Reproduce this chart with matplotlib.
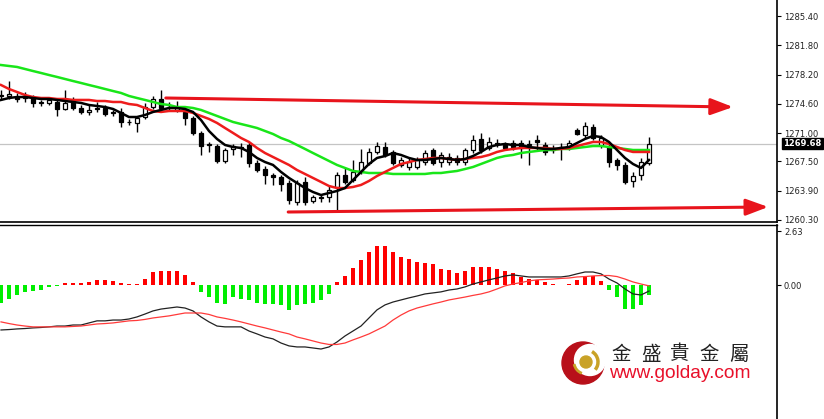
import matplotlib
matplotlib.use("Agg")
import matplotlib.pyplot as plt
from matplotlib.patches import Circle, Arc
import numpy as np

# ---- price candles (one per bar) ----
opens = [1275.7, 1275.6, 1275.4, 1275.3, 1275.3, 1274.7, 1274.7, 1274.8, 1274.0, 1274.8,
         1274.1, 1273.6, 1274.1, 1274.1, 1273.6, 1273.6, 1272.4, 1272.2, 1273.0, 1274.2,
         1275.2, 1274.5, 1273.8, 1273.6, 1272.9, 1271.0, 1269.5, 1269.4, 1267.6, 1269.0,
         1269.3, 1269.5, 1267.3, 1266.6, 1265.8, 1265.6, 1264.9, 1262.5, 1265.0, 1262.6,
         1263.1, 1263.1, 1264.4, 1265.8, 1265.2, 1266.2, 1267.3, 1268.7, 1269.3, 1268.7,
         1267.1, 1266.8, 1266.8, 1267.4, 1268.9, 1267.4, 1267.4, 1267.9, 1267.4, 1268.9,
         1270.3, 1269.2, 1269.8, 1269.5, 1269.8, 1269.8, 1269.5, 1270.1, 1269.5, 1268.9,
         1269.2, 1269.2, 1271.4, 1270.8, 1271.7, 1269.5, 1269.3, 1267.7, 1267.1, 1265.1,
         1265.8, 1267.3]
highs = [1276.3, 1277.4, 1275.9, 1276.0, 1275.7, 1275.1, 1275.4, 1275.1, 1276.3, 1275.4,
         1274.5, 1274.5, 1274.8, 1274.5, 1273.8, 1274.1, 1272.7, 1273.1, 1274.7, 1275.6,
         1276.3, 1274.8, 1274.9, 1274.1, 1273.1, 1271.3, 1269.9, 1269.7, 1269.2, 1269.7,
         1269.8, 1269.9, 1267.7, 1266.9, 1266.1, 1265.8, 1265.2, 1265.2, 1265.6, 1263.4,
         1263.4, 1264.6, 1266.2, 1266.7, 1267.7, 1269.0, 1269.2, 1269.9, 1269.9, 1268.9,
         1268.1, 1268.1, 1268.1, 1268.9, 1269.2, 1268.7, 1268.5, 1268.3, 1269.2, 1270.8,
         1271.0, 1270.5, 1270.3, 1269.9, 1270.1, 1270.1, 1270.1, 1270.8, 1269.9, 1269.5,
         1269.8, 1270.1, 1271.6, 1272.4, 1272.1, 1270.8, 1269.7, 1267.9, 1267.4, 1266.2,
         1267.9, 1270.5]
lows = [1275.1, 1275.2, 1274.8, 1274.8, 1274.2, 1274.3, 1274.5, 1273.1, 1273.8, 1273.8,
        1273.3, 1273.2, 1273.6, 1273.1, 1273.1, 1271.7, 1272.0, 1271.1, 1272.7, 1274.0,
        1273.8, 1273.8, 1273.6, 1272.0, 1270.8, 1268.3, 1268.7, 1267.3, 1267.3, 1268.3,
        1268.1, 1266.8, 1266.2, 1264.7, 1264.6, 1263.9, 1262.3, 1262.1, 1262.1, 1262.4,
        1262.5, 1262.5, 1261.4, 1264.7, 1265.0, 1266.0, 1267.1, 1268.4, 1268.1, 1267.1,
        1266.8, 1266.5, 1266.6, 1267.1, 1267.1, 1266.8, 1267.1, 1267.1, 1267.1, 1268.5,
        1268.5, 1268.9, 1269.3, 1268.9, 1268.9, 1267.9, 1267.1, 1268.9, 1268.3, 1268.5,
        1267.7, 1268.9, 1270.8, 1270.4, 1270.1, 1269.2, 1266.8, 1266.5, 1264.7, 1264.4,
        1265.2, 1267.1]
closes = [1275.6, 1275.8, 1275.2, 1275.6, 1274.7, 1274.8, 1275.1, 1274.0, 1274.7, 1274.1,
          1273.6, 1273.8, 1274.0, 1273.3, 1273.5, 1272.4, 1272.3, 1272.9, 1274.2, 1275.2,
          1274.1, 1274.4, 1274.2, 1272.9, 1271.0, 1269.4, 1269.6, 1267.6, 1268.9, 1269.4,
          1269.2, 1267.3, 1266.5, 1265.8, 1265.6, 1264.7, 1262.8, 1264.9, 1262.5, 1263.1,
          1263.0, 1264.0, 1265.8, 1265.0, 1266.2, 1267.4, 1268.7, 1269.4, 1268.3, 1267.3,
          1267.7, 1267.4, 1267.7, 1268.5, 1267.3, 1268.3, 1268.1, 1267.4, 1268.9, 1270.1,
          1268.9, 1269.9, 1269.7, 1269.2, 1269.3, 1269.2, 1269.7, 1269.9, 1268.7, 1269.2,
          1269.3, 1269.8, 1270.9, 1271.9, 1270.4, 1270.4, 1267.4, 1267.1, 1265.0, 1265.7,
          1267.4, 1269.68]

# ---- moving averages ----
ma_fast = [1275.07, 1275.31, 1275.43, 1275.43, 1275.31, 1275.19, 1275.19, 1275.07, 1274.94, 1274.82,
           1274.70, 1274.45, 1274.33, 1274.20, 1273.96, 1273.47, 1272.97, 1272.97, 1273.22, 1273.59,
           1273.84, 1274.08, 1274.08, 1273.96, 1273.59, 1272.60, 1271.25, 1270.27, 1269.53, 1269.28,
           1269.16, 1268.67, 1267.93, 1267.43, 1267.07, 1266.21, 1265.47, 1264.85, 1264.23, 1263.74,
           1263.37, 1263.62, 1263.87, 1264.23, 1265.22, 1266.21, 1267.19, 1267.93, 1268.17, 1268.54,
           1268.30, 1267.93, 1267.68, 1267.68, 1267.80, 1267.93, 1267.80, 1267.68, 1267.80, 1268.17,
           1268.67, 1269.28, 1269.53, 1269.65, 1269.53, 1269.53, 1269.28, 1269.16, 1269.04, 1269.04,
           1269.16, 1269.28, 1269.77, 1270.27, 1270.64, 1270.51, 1269.90, 1268.91, 1267.93, 1267.19,
           1266.70, 1267.68]
ma_mid = [1276.91, 1276.42, 1276.05, 1275.68, 1275.43, 1275.31, 1275.31, 1275.19, 1275.19, 1275.07,
          1275.07, 1275.07, 1274.94, 1274.94, 1274.82, 1274.82, 1274.57, 1274.45, 1274.08, 1273.71,
          1273.59, 1273.71, 1273.71, 1273.71, 1273.47, 1273.10, 1272.73, 1272.24, 1271.62, 1271.01,
          1270.39, 1269.90, 1269.16, 1268.54, 1268.05, 1267.56, 1267.07, 1266.45, 1265.96, 1265.47,
          1264.98, 1264.48, 1264.23, 1264.23, 1264.36, 1264.61, 1265.10, 1265.71, 1266.21, 1266.70,
          1267.19, 1267.43, 1267.68, 1267.80, 1267.93, 1267.93, 1267.80, 1267.68, 1267.80, 1267.93,
          1268.05, 1268.30, 1268.67, 1268.91, 1269.04, 1269.16, 1269.16, 1269.16, 1269.16, 1269.04,
          1269.04, 1269.16, 1269.40, 1269.65, 1269.90, 1269.90, 1269.65, 1269.28, 1268.91, 1268.67,
          1268.67, 1268.67]
ma_slow = [1279.37, 1279.25, 1279.13, 1278.88, 1278.63, 1278.39, 1278.14, 1277.90, 1277.65, 1277.40,
           1277.16, 1276.91, 1276.67, 1276.42, 1276.17, 1275.93, 1275.56, 1275.31, 1275.07, 1274.82,
           1274.57, 1274.45, 1274.20, 1274.20, 1274.08, 1273.84, 1273.47, 1273.10, 1272.73, 1272.36,
           1272.11, 1271.87, 1271.62, 1271.25, 1270.88, 1270.39, 1270.02, 1269.53, 1269.04, 1268.54,
           1268.05, 1267.56, 1267.07, 1266.70, 1266.33, 1266.21, 1266.08, 1266.08, 1266.08, 1265.96,
           1265.96, 1265.96, 1265.96, 1265.96, 1266.08, 1266.08, 1266.21, 1266.33, 1266.57, 1266.82,
           1267.19, 1267.56, 1267.93, 1268.17, 1268.30, 1268.54, 1268.67, 1268.79, 1268.91, 1268.91,
           1269.04, 1269.04, 1269.16, 1269.28, 1269.40, 1269.40, 1269.28, 1269.16, 1269.04, 1268.91,
           1268.91, 1268.91]

# ---- MACD panel ----
macd_hist = [-0.86, -0.67, -0.48, -0.33, -0.29, -0.2, -0.08, -0.05, 0.1, 0.1,
             0.12, 0.15, 0.27, 0.24, 0.2, 0.13, 0.08, 0.08, 0.33, 0.64,
             0.7, 0.7, 0.7, 0.5, 0.16, -0.32, -0.55, -0.85, -0.88, -0.55,
             -0.64, -0.72, -0.85, -0.88, -0.88, -0.96, -1.17, -0.96, -0.91, -0.85,
             -0.72, -0.4, 0.16, 0.48, 0.85, 1.23, 1.6, 1.91, 1.91, 1.64,
             1.39, 1.28, 1.12, 1.08, 1.04, 0.8, 0.75, 0.59, 0.72, 0.91,
             0.88, 0.88, 0.8, 0.69, 0.59, 0.4, 0.32, 0.27, 0.16, 0.05,
             0.03, 0.05, 0.27, 0.48, 0.48, 0.21, -0.21, -0.56, -1.12, -1.12,
             -0.96, -0.48]
macd_line = [-2.15, -2.13, -2.10, -2.08, -2.05, -2.03, -2.00, -1.96, -1.96, -1.91,
             -1.91, -1.81, -1.71, -1.71, -1.67, -1.67, -1.62, -1.52, -1.38, -1.23,
             -1.14, -1.09, -1.04, -1.09, -1.23, -1.52, -1.76, -1.96, -2.00, -2.00,
             -2.00, -2.20, -2.34, -2.49, -2.58, -2.78, -2.92, -2.97, -2.97, -3.02,
             -3.07, -2.97, -2.73, -2.44, -2.20, -1.96, -1.57, -1.18, -0.94, -0.80,
             -0.70, -0.60, -0.51, -0.41, -0.36, -0.31, -0.22, -0.17, -0.07, 0.07,
             0.17, 0.27, 0.36, 0.46, 0.51, 0.46, 0.41, 0.41, 0.41, 0.41,
             0.41, 0.46, 0.56, 0.65, 0.65, 0.56, 0.31, 0.12, -0.17, -0.41,
             -0.46, -0.27]
signal_line = [-1.76, -1.84, -1.91, -1.96, -2.00, -2.00, -2.00, -2.00, -2.00, -1.98,
               -1.96, -1.91, -1.86, -1.84, -1.81, -1.76, -1.71, -1.69, -1.64, -1.57,
               -1.52, -1.47, -1.40, -1.33, -1.33, -1.33, -1.40, -1.52, -1.59, -1.67,
               -1.76, -1.86, -1.96, -2.05, -2.15, -2.25, -2.34, -2.49, -2.58, -2.68,
               -2.78, -2.85, -2.85, -2.78, -2.63, -2.49, -2.34, -2.15, -1.96, -1.67,
               -1.43, -1.23, -1.09, -0.99, -0.89, -0.80, -0.70, -0.63, -0.56, -0.48,
               -0.41, -0.31, -0.17, -0.02, 0.07, 0.14, 0.22, 0.27, 0.29, 0.31,
               0.34, 0.36, 0.41, 0.43, 0.46, 0.48, 0.48, 0.43, 0.31, 0.17,
               0.07, -0.02]

price_ticks = [1285.40, 1281.80, 1278.20, 1274.60, 1271.00, 1267.50, 1263.90, 1260.30]
price_labels = ["1285.40", "1281.80", "1278.20", "1274.60", "1271.00", "1267.50", "1263.90", "1260.30"]
macd_ticks = [2.63, 0.00]
last_price = 1269.68

# trend lines drawn on the chart: (bar, price) start -> end
upper_trend = [(20.6, 1275.31), (91.5, 1274.20)]
lower_trend = [(35.9, 1261.28), (95.9, 1261.90)]

RED = "#e8141c"
W, H = 824, 419
fig = plt.figure(figsize=(W / 100, H / 100), dpi=100)
fig.patch.set_facecolor("white")

ax_w = 777 / W
ax = fig.add_axes([0, (H - 222) / H, ax_w, 222 / H])
ax2 = fig.add_axes([0, 0, ax_w, 194 / H])

x = np.arange(len(closes))
xlim = (-0.125, 97.0)

# candles
o = np.array(opens); c = np.array(closes)
ax.vlines(x, lows, highs, color="black", lw=1, zorder=2)
up = c >= o
bottoms = np.minimum(o, c)
heights = np.maximum(np.abs(c - o), 0.02)
ax.bar(x[up], heights[up], bottom=bottoms[up], width=0.62, color="white",
       edgecolor="black", linewidth=0.9, zorder=3)
ax.bar(x[~up], heights[~up], bottom=bottoms[~up], width=0.62, color="black",
       edgecolor="black", linewidth=0.9, zorder=3)

ax.plot(x, ma_slow, color="#19e619", lw=1.8, zorder=4)
ax.plot(x, ma_mid, color="#ee1c1c", lw=1.8, zorder=5)
ax.plot(x, ma_fast, color="black", lw=1.8, zorder=6)

ax.axhline(last_price, color="#c4c4c4", lw=0.9, zorder=1)

for tr in (upper_trend, lower_trend):
    ax.annotate("", xy=tr[1], xytext=tr[0],
                arrowprops=dict(arrowstyle="-|>,head_length=1.35,head_width=0.5",
                                color=RED, lw=2.2, shrinkA=0, shrinkB=0,
                                mutation_scale=10), zorder=7)

ax.set_xlim(*xlim)
ax.set_ylim(1260.05, 1287.37)
ax.yaxis.tick_right()
ax.set_yticks(price_ticks)
ax.set_yticklabels(price_labels)
ax.set_xticks([])
for s in ("top", "left"):
    ax.spines[s].set_visible(False)
ax.spines["right"].set_linewidth(1.2)
ax.spines["bottom"].set_linewidth(1.2)
ax.tick_params(axis="y", direction="out", length=3, width=0.8, pad=2,
               labelsize=6, labelcolor="#222222")

ax.text(1.008, last_price, "%.2f" % last_price, transform=ax.get_yaxis_transform(),
        ha="left", va="center", fontsize=6, color="white", fontweight="bold",
        bbox=dict(boxstyle="square,pad=0.15", fc="black", ec="black"),
        clip_on=False, zorder=10)

# MACD panel
h = np.array(macd_hist)
cols = np.where(h >= 0, "#ff0000", "#00ee00")
ax2.bar(x, h, width=0.38, color=cols, zorder=2)
ax2.plot(x, macd_line, color="#222222", lw=0.9, zorder=3)
ax2.plot(x, signal_line, color="#ff3a3a", lw=0.9, zorder=4)
ax2.set_xlim(*xlim)
ax2.set_ylim(-6.45, 2.92)
ax2.yaxis.tick_right()
ax2.set_yticks(macd_ticks)
ax2.set_yticklabels(["2.63", "0.00"])
ax2.set_xticks([])
for s in ("left", "bottom"):
    ax2.spines[s].set_visible(False)
ax2.spines["right"].set_linewidth(1.2)
ax2.spines["top"].set_linewidth(1.0)
ax2.tick_params(axis="y", direction="out", length=3, width=0.8, pad=2,
                labelsize=6, labelcolor="#222222")

# watermark logo
ov = fig.add_axes([0, 0, 1, 1], zorder=20)
ov.set_xlim(0, W); ov.set_ylim(H, 0); ov.axis("off")
ov.patch.set_alpha(0)
ov.add_patch(Circle((583, 363), 21, color="#b8101a"))
ov.add_patch(Circle((590, 360), 15.5, color="white"))
ov.add_patch(Circle((586, 362), 6, color="#c9a227"))
ov.add_patch(Arc((586, 362), 24, 24, theta1=300, theta2=40, color="#c9a227", lw=2.5))
ov.add_patch(Arc((586, 362), 24, 24, theta1=110, theta2=170, color="#c9a227", lw=2.0))
for k, ch in enumerate("金盛貴金屬"):
    ov.text(621 + 29.5 * k, 354, ch, ha="center", va="center", fontsize=14,
            family=["Noto Sans CJK TC", "DejaVu Sans"], color="#222222")
ov.text(609, 373, "www.golday.com", ha="left", va="center", fontsize=13.8,
        family="Liberation Sans", color="#e8102a")

fig.savefig("out.png", dpi=100, facecolor="white")
